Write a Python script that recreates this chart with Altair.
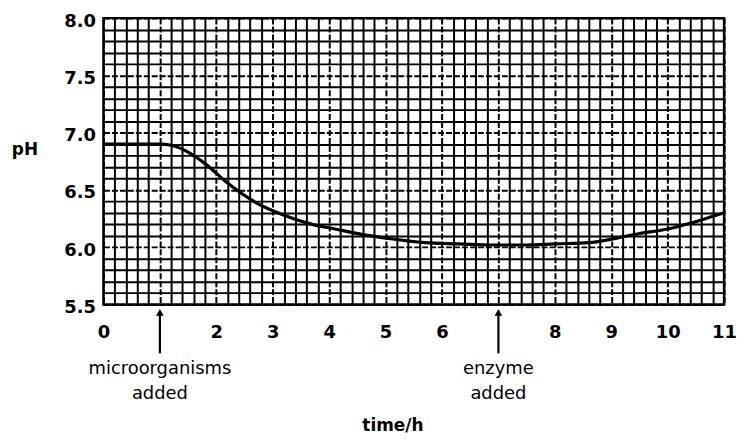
import altair as alt
import pandas as pd
import numpy as np

# curve data
time_h = [0, 0.5, 1.0, 1.2, 1.5, 1.8, 2.2, 2.7, 3.2, 3.7, 4.1, 4.6, 5.0, 5.7, 6.3, 6.9, 7.5, 8.0, 8.6, 9.1, 9.5, 10.0, 10.4, 10.8, 11.0]
ph = [6.90, 6.90, 6.90, 6.89, 6.83, 6.73, 6.56, 6.39, 6.28, 6.20, 6.16, 6.11, 6.08, 6.04, 6.03, 6.02, 6.02, 6.03, 6.04, 6.08, 6.12, 6.16, 6.21, 6.27, 6.30]

# tick labels
x_labels = [0, 2, 3, 4, 5, 6, 8, 9, 10, 11]
y_labels = [5.5, 6.0, 6.5, 7.0, 7.5, 8.0]

# annotations
event_times = [1, 7]
event_line1 = ["microorganisms", "enzyme"]
event_line2 = ["added", "added"]

x_grid = [round(v, 1) for v in np.arange(0, 11.0001, 0.2)]
y_grid = [round(v, 1) for v in np.arange(5.5, 8.0001, 0.1)]

FONT = "DejaVu Sans"
W, H = 624, 288

df = pd.DataFrame({"t": time_h, "ph": ph})
ev = pd.DataFrame({"t": event_times, "l1": event_line1, "l2": event_line2})
one = pd.DataFrame({"a": [0]})

xlab_expr = "indexof([" + ",".join(str(v) for v in x_labels) + "], datum.value) >= 0 ? format(datum.value, 'd') : ''"
ylab_expr = "indexof([" + ",".join(str(v) for v in y_labels) + "], datum.value) >= 0 ? format(datum.value, '.1f') : ''"

x_scale = alt.Scale(domain=[0, 11], nice=False, zero=False)
y_scale = alt.Scale(domain=[5.5, 8.0], nice=False, zero=False)

x_dash = {"condition": {"test": "abs(datum.value - round(datum.value)) < 0.001", "value": [6, 2]}, "value": []}
y_dash = {"condition": {"test": "abs(datum.value*2 - round(datum.value*2)) < 0.001", "value": [6, 2]}, "value": []}

x_axis = alt.Axis(values=x_grid, tickCount=200, grid=True, gridColor="black", gridWidth=2, gridOpacity=1,
                  gridDash=x_dash,
                  ticks=False, domain=False, labelExpr=xlab_expr, labelOverlap=False,
                  labelFlush=False, labelPadding=19, labelFont=FONT, labelFontSize=18,
                  labelFontWeight="bold", labelColor="black", title=None)
y_axis = alt.Axis(values=y_grid, tickCount=200, grid=True, gridColor="black", gridWidth=2, gridOpacity=1,
                  gridDash=y_dash,
                  ticks=False, domain=False, labelExpr=ylab_expr, labelOverlap=False,
                  labelFlush=False, labelPadding=8, labelOffset=3, labelFont=FONT, labelFontSize=18,
                  labelFontWeight="bold", labelColor="black", title=None)

line = alt.Chart(df).mark_line(color="black", strokeWidth=3.2, interpolate="monotone").encode(
    x=alt.X("t:Q", scale=x_scale, axis=x_axis),
    y=alt.Y("ph:Q", scale=y_scale, axis=y_axis),
)

frame = alt.Chart(one).mark_rect(fill=None, stroke="black", strokeWidth=2.5).encode(
    x=alt.value(0), x2=alt.value(W), y=alt.value(0), y2=alt.value(H)
)

arrows = alt.Chart(ev).mark_rule(color="black", strokeWidth=2.2).encode(
    x=alt.X("t:Q", scale=x_scale), y=alt.value(294), y2=alt.value(337)
)
heads = alt.Chart(ev).mark_point(shape="triangle-up", filled=True, color="black", opacity=1, size=60).encode(
    x=alt.X("t:Q", scale=x_scale), y=alt.value(296)
)
t1 = alt.Chart(ev).mark_text(font=FONT, fontSize=18, color="black", baseline="middle").encode(
    x=alt.X("t:Q", scale=x_scale), y=alt.value(353), text="l1:N"
)
t2 = alt.Chart(ev).mark_text(font=FONT, fontSize=18, color="black", baseline="middle").encode(
    x=alt.X("t:Q", scale=x_scale), y=alt.value(378), text="l2:N"
)

ylab = alt.Chart(one).mark_text(text="pH", font=FONT, fontSize=17, fontWeight="bold", color="black").encode(
    x=alt.value(-79), y=alt.value(133)
)
xlab = alt.Chart(one).mark_text(text="time/h", font=FONT, fontSize=17, fontWeight="bold", color="black").encode(
    x=alt.value(291), y=alt.value(410)
)

chart = alt.layer(line, frame, arrows, heads, t1, t2, ylab, xlab).properties(
    width=W, height=H,
    autosize=alt.AutoSizeParams(type="none"),
    padding={"left": 96, "top": 9, "right": 14, "bottom": 135},
).configure_view(stroke=None).configure(background="white")

chart.save("out.html", embed_options={"renderer": "svg", "actions": False})
